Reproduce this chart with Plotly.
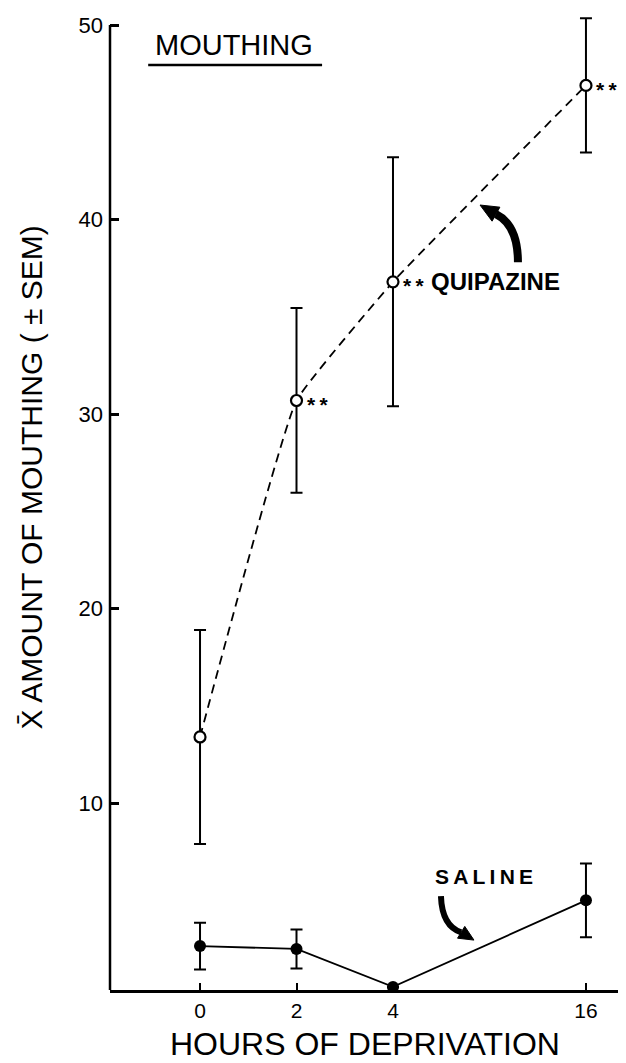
import plotly.graph_objects as go

# ---- data ----
hours_labels = ["0", "2", "4", "16"]
hours_pos = [0, 1, 2, 4]          # equally spaced first three, 16 placed further out
quip_mean = [13.4, 30.7, 36.8, 46.9]
quip_sem = [5.5, 4.75, 6.4, 3.45]
sal_mean = [2.65, 2.5, 0.55, 5.0]
sal_sem = [1.2, 1.0, 0.0, 1.9]
y_ticks = [10, 20, 30, 40, 50]

FONT = "Liberation Sans, Arial, sans-serif"

fig = go.Figure()

fig.add_trace(go.Scatter(
    x=hours_pos, y=sal_mean, mode="lines+markers",
    line=dict(color="black", width=1.8),
    marker=dict(symbol="circle", size=12, color="black"),
    error_y=dict(type="data", array=sal_sem, visible=True, color="black", thickness=2, width=6),
    showlegend=False,
))

fig.add_trace(go.Scatter(
    x=hours_pos, y=quip_mean, mode="lines+markers",
    line=dict(color="black", width=1.8, dash="9px,6px", shape="spline", smoothing=0.3),
    marker=dict(symbol="circle", size=11, color="white", line=dict(color="black", width=2.2)),
    error_y=dict(type="data", array=quip_sem, visible=True, color="black", thickness=2, width=6),
    showlegend=False,
))

# significance markers
for i in [1, 2, 3]:
    fig.add_annotation(x=hours_pos[i], y=quip_mean[i], text="<b>*\u2009*</b>", showarrow=False,
                       xanchor="left", yanchor="middle", xshift=8, yshift=-4,
                       font=dict(family=FONT, size=21, color="black"))

fig.add_annotation(x=hours_pos[2], y=quip_mean[2], text="<b>QUIPAZINE</b>", showarrow=False,
                   xanchor="left", yanchor="middle", xshift=36,
                   font=dict(family=FONT, size=24, color="black"))
fig.add_annotation(x=2.415, y=6.25, text="<b>S\u2009A\u2009L\u2009I\u2009N\u2009E</b>", showarrow=False,
                   xanchor="left", yanchor="middle",
                   font=dict(family=FONT, size=21, color="black"))

# curved arrows
shapes = []
shapes.append(dict(type="path", xref="x", yref="y",
                   path="M 3.295,37.81 Q 3.295,39.72 3.067,40.28",
                   line=dict(color="black", width=8)))
shapes.append(dict(type="path", xref="x", yref="y",
                   path="M 2.902,40.75 L 3.108,40.64 L 3.027,39.92 Z",
                   fillcolor="black", line=dict(color="black", width=1)))
shapes.append(dict(type="path", xref="x", yref="y",
                   path="M 2.497,5.219 Q 2.508,3.676 2.707,3.357",
                   line=dict(color="black", width=6)))
shapes.append(dict(type="path", xref="x", yref="y",
                   path="M 2.839,2.956 L 2.669,3.054 L 2.744,3.661 Z",
                   fillcolor="black", line=dict(color="black", width=1)))
# y axis line up to 50
shapes.append(dict(type="line", xref="paper", yref="y", x0=0, x1=0, y0=0.39, y1=50,
                   line=dict(color="black", width=2.5)))
# title underline
shapes.append(dict(type="line", xref="paper", yref="paper", x0=0.074, x1=0.411, y0=0.942, y1=0.942,
                   line=dict(color="black", width=2.5)))

fig.update_layout(
    width=626, height=1063,
    margin=dict(l=102, r=8, t=0, b=81),
    paper_bgcolor="white", plot_bgcolor="white",
    font=dict(family=FONT, color="black"),
    shapes=shapes,
    xaxis=dict(range=[-0.933, 4.415], tickvals=hours_pos, ticktext=hours_labels,
               showgrid=False, zeroline=False, showline=True, linecolor="black", linewidth=2.5,
               ticks="inside", ticklen=7, tickwidth=2, tickcolor="black",
               tickfont=dict(family=FONT, size=21)),
    yaxis=dict(range=[0.39, 50.88], tickvals=y_ticks, ticktext=[str(v) for v in y_ticks],
               showgrid=False, zeroline=False, showline=False,
               ticks="inside", ticklen=9, tickwidth=2.5, tickcolor="black",
               ticklabelstandoff=6,
               tickfont=dict(family=FONT, size=22)),
)

fig.add_annotation(xref="paper", yref="paper", x=0.241, y=0.962, text="MOUTHING",
                   showarrow=False, xanchor="center", yanchor="middle",
                   font=dict(family=FONT, size=29))
fig.add_annotation(xref="paper", yref="paper", x=0.494, y=-0.055, text="HOURS OF DEPRIVATION",
                   showarrow=False, xanchor="center", yanchor="middle",
                   font=dict(family=FONT, size=32))
fig.add_annotation(xref="paper", yref="paper", x=-0.153, y=0.522,
                   text="X\u0304 AMOUNT OF MOUTHING ( \u00b1 SEM)",
                   showarrow=False, textangle=-90, xanchor="center", yanchor="middle",
                   font=dict(family=FONT, size=30))

fig.write_html("out.html")
